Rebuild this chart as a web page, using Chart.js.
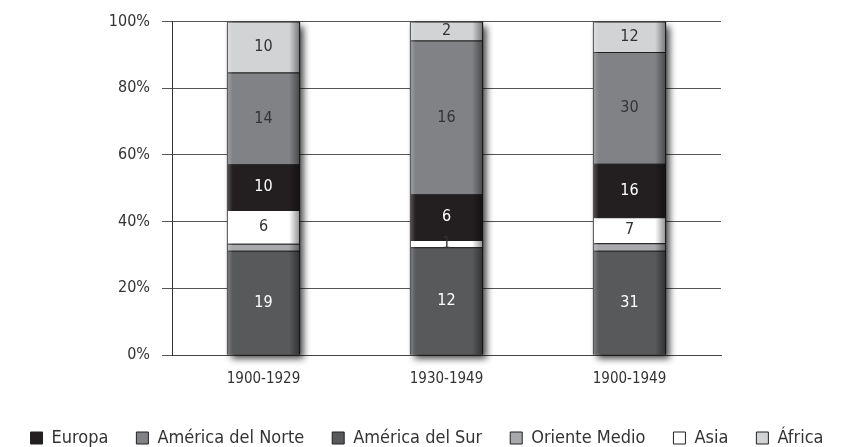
<!DOCTYPE html>
<html>
<head>
<meta charset="utf-8">
<script src="https://cdn.jsdelivr.net/npm/chart.js@4/dist/chart.umd.min.js"></script>
<style>
  html, body { margin: 0; padding: 0; background: #fff; }
  #wrap { width: 854px; height: 447px; }
</style>
</head>
<body>
<div id="wrap"><canvas id="chart"></canvas></div>
<script>
// categories
const periods = ['1900-1929', '1930-1949', '1900-1949'];

// share of each bar (%), bottom to top
const surShare = [31.3, 32.3, 31.3];
const orienteShare = [2.1, 0, 2.2];
const asiaShare = [10.1, 2.2, 7.8];
const europaShare = [13.7, 13.7, 16.1];
const norteShare = [27.5, 46.1, 33.5];
const africaShare = [15.3, 5.7, 9.1];

// numbers printed inside the segments
const surLabels = [19, 12, 31];
const orienteLabels = [null, null, null];
const asiaLabels = [6, 1, 7];
const europaLabels = [10, 6, 16];
const norteLabels = [14, 16, 30];
const africaLabels = [10, 2, 12];

const yTicks = [0, 20, 40, 60, 80, 100];
const legendOrder = ['Europa', 'América del Norte', 'América del Sur', 'Oriente Medio', 'Asia', 'África'];

const FONT = '"DejaVu Sans Condensed", sans-serif';
const edge = '#231f20';

function ds(label, data, labels, color, textColor) {
    return {
        label: label,
        data: data,
        segLabels: labels,
        textColor: textColor,
        backgroundColor: color,
        borderColor: edge,
        borderWidth: 1,
        barPercentage: 0.4,
        categoryPercentage: 1.0
    };
}

const datasets = [
    ds('América del Sur', surShare, surLabels, '#58595b', '#ffffff'),
    ds('Oriente Medio', orienteShare, orienteLabels, '#a7a9ac', '#333333'),
    ds('Asia', asiaShare, asiaLabels, '#ffffff', '#333333'),
    ds('Europa', europaShare, europaLabels, '#231f20', '#ffffff'),
    ds('América del Norte', norteShare, norteLabels, '#808285', '#333333'),
    ds('África', africaShare, africaLabels, '#d1d3d4', '#333333')
];

// column extents from the library's own bar elements
function stacks(chart) {
    const out = [];
    periods.forEach(function(p, i) {
        let top = Infinity, bottom = -Infinity, x = 0, w = 0;
        chart.data.datasets.forEach(function(d, di) {
            const el = chart.getDatasetMeta(di).data[i];
            if (!el) return;
            top = Math.min(top, el.y, el.base);
            bottom = Math.max(bottom, el.y, el.base);
            x = el.x; w = el.width;
        });
        out.push({left: x - w / 2, right: x + w / 2, top: top, bottom: bottom, w: w});
    });
    return out;
}

const barLook = {
    id: 'barLook',
    beforeDatasetsDraw(chart) {
        const ctx = chart.ctx;
        stacks(chart).forEach(function(s) {
            ctx.save();
            ctx.shadowColor = 'rgba(0,0,0,0.75)';
            ctx.shadowBlur = 7;
            ctx.shadowOffsetX = 4;
            ctx.shadowOffsetY = 4;
            ctx.fillStyle = '#333';
            ctx.fillRect(s.left, s.top, s.w, s.bottom - s.top);
            ctx.restore();
        });
    },
    afterDatasetsDraw(chart) {
        const ctx = chart.ctx;
        stacks(chart).forEach(function(s) {
            const g = ctx.createLinearGradient(s.left, 0, s.right, 0);
            g.addColorStop(0, 'rgba(255,255,255,0.25)');
            g.addColorStop(0.08, 'rgba(255,255,255,0)');
            g.addColorStop(0.85, 'rgba(0,0,0,0)');
            g.addColorStop(1, 'rgba(0,0,0,0.45)');
            ctx.save();
            ctx.fillStyle = g;
            ctx.fillRect(s.left, s.top, s.w, s.bottom - s.top);
            ctx.restore();
        });
        // numbers inside segments
        ctx.save();
        ctx.font = '16px ' + FONT;
        ctx.textAlign = 'center';
        ctx.textBaseline = 'middle';
        chart.data.datasets.forEach(function(d, di) {
            chart.getDatasetMeta(di).data.forEach(function(el, i) {
                const v = d.segLabels[i];
                if (v === null || v === undefined) return;
                ctx.fillStyle = d.textColor;
                ctx.fillText(String(v), el.x, (el.y + el.base) / 2);
            });
        });
        ctx.restore();
    }
};

new Chart(document.getElementById('chart'), {
    type: 'bar',
    data: { labels: periods, datasets: datasets },
    options: {
        responsive: true,
        maintainAspectRatio: false,
        animation: false,
        layout: { padding: { left: 0, right: 0, top: 17, bottom: -10 } },
        scales: {
            x: {
                stacked: true,
                grid: { display: false },
                border: { display: true, color: '#444', width: 1 },
                ticks: { color: '#333', font: { family: FONT, size: 15 }, padding: 7 },
                afterFit(scale) { scale.height = 46; }
            },
            y: {
                stacked: true,
                min: 0,
                max: 100,
                afterBuildTicks(scale) { scale.ticks = yTicks.map(v => ({value: v})); },
                grid: { color: '#555', lineWidth: 1, tickLength: 10 },
                border: { display: true, color: '#333', width: 1 },
                ticks: {
                    color: '#333',
                    font: { family: FONT, size: 16 },
                    padding: 12,
                    callback: v => v + '%'
                },
                afterFit(scale) { scale.width = 172; }
            },
            spacer: {
                position: 'right',
                display: true,
                grid: { display: false },
                border: { display: false },
                ticks: { display: false },
                afterFit(scale) { scale.width = 133; }
            }
        },
        plugins: {
            legend: {
                position: 'bottom',
                labels: {
                    color: '#333',
                    font: { family: FONT, size: 18 },
                    boxWidth: 12,
                    boxHeight: 12,
                    padding: 28,
                    sort: (a, b) => legendOrder.indexOf(a.text) - legendOrder.indexOf(b.text)
                }
            },
            tooltip: { enabled: false }
        }
    },
    plugins: [barLook]
});
</script>
</body>
</html>
